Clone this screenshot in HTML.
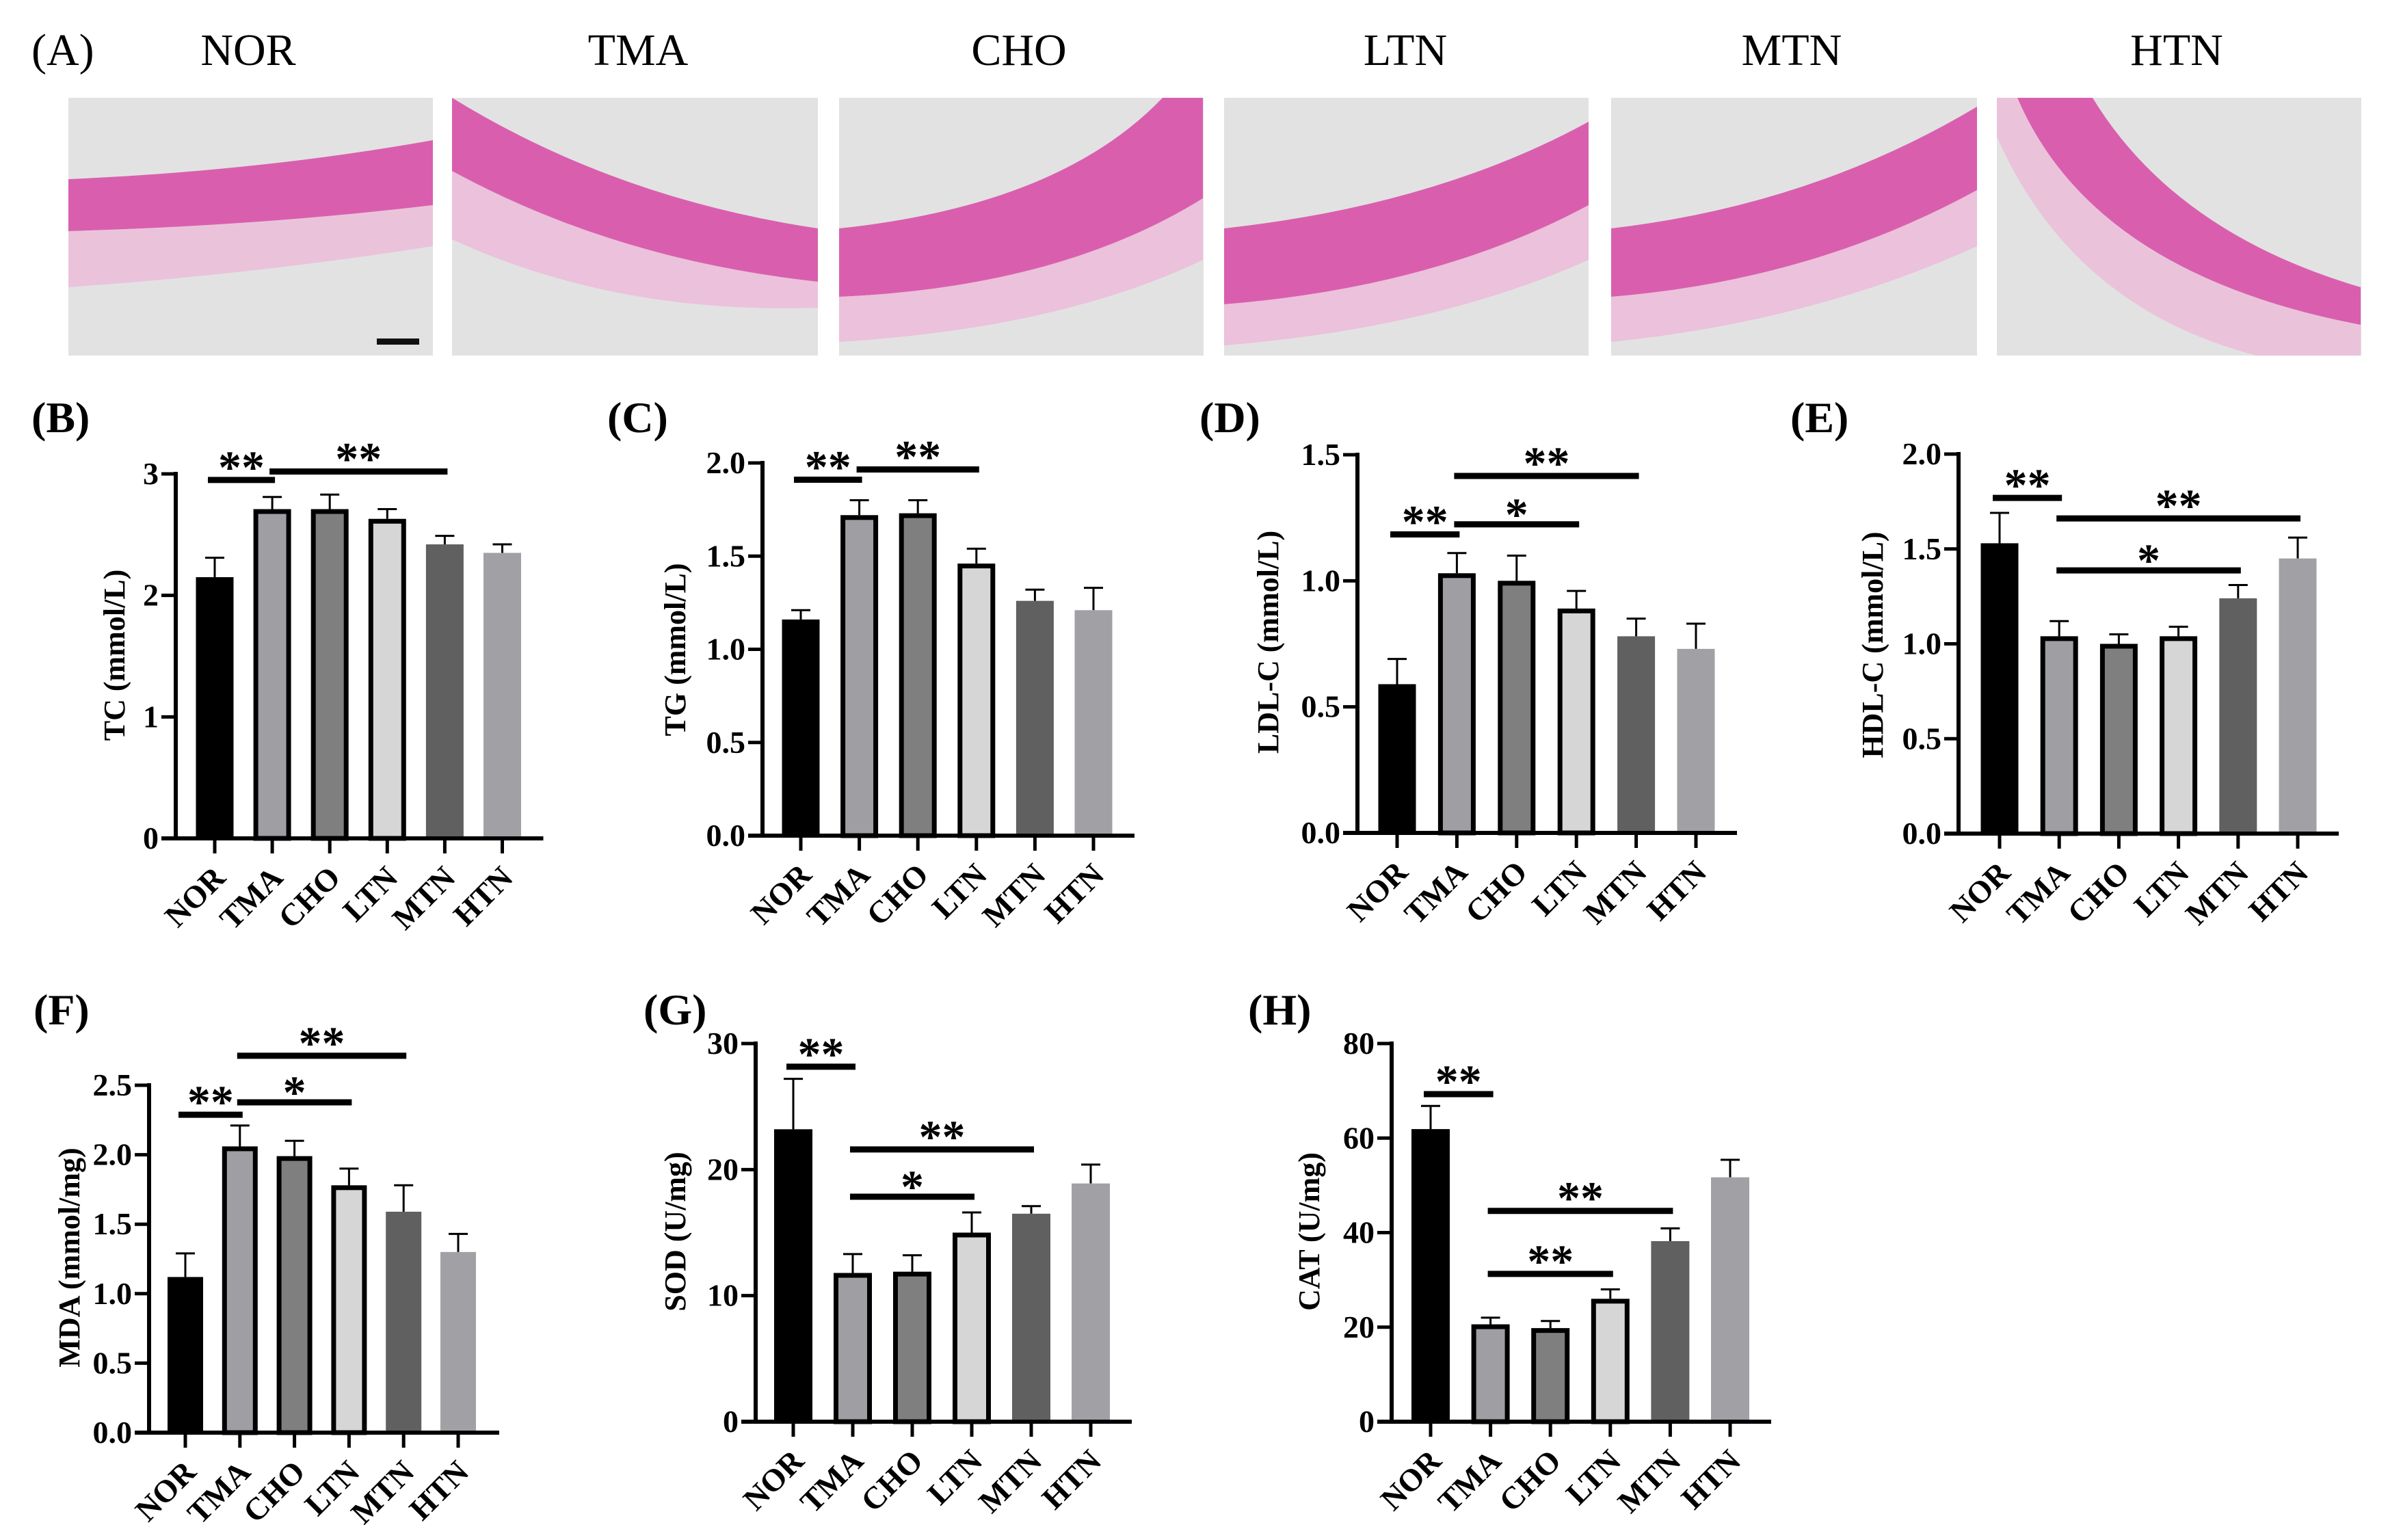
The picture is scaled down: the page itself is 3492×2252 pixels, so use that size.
<!DOCTYPE html>
<html><head><meta charset="utf-8"><style>
html,body{margin:0;padding:0;background:#fff;}
svg{display:block;font-family:"Liberation Serif","Times New Roman",serif;}
</style></head><body>
<svg id="fig" width="3492" height="2252" viewBox="0 0 3492 2252" xmlns="http://www.w3.org/2000/svg">
<g id="panelA">
<text x="46" y="95" font-size="66">(A)</text>
<text x="363" y="95" font-size="66" text-anchor="middle">NOR</text>
<text x="933" y="95" font-size="66" text-anchor="middle">TMA</text>
<text x="1490" y="95" font-size="66" text-anchor="middle">CHO</text>
<text x="2055" y="95" font-size="66" text-anchor="middle">LTN</text>
<text x="2620" y="95" font-size="66" text-anchor="middle">MTN</text>
<text x="3183" y="95" font-size="66" text-anchor="middle">HTN</text>
<g>
<rect x="100" y="143" width="533" height="377" fill="#e2e2e2"/>
<path d="M100 262 Q380 250 633 205 L633 300 Q380 330 100 338 Z" fill="#d95fae"/>
<path d="M100 338 Q380 330 633 300 L633 360 Q380 400 100 420 Z" fill="#eeb6d8" opacity="0.7"/>
<rect x="551" y="495" width="62" height="9" fill="#111"/>
</g>
<g>
<rect x="661" y="143" width="535" height="377" fill="#e2e2e2"/>
<path d="M661 143 Q900 290 1196 334 L1196 412 Q900 380 661 250 Z" fill="#d95fae"/>
<path d="M661 250 Q900 380 1196 412 L1196 450 Q900 460 661 350 Z" fill="#eeb6d8" opacity="0.75"/>
</g>
<g>
<rect x="1227" y="143" width="533" height="377" fill="#e2e2e2"/>
<path d="M1227 334 Q1550 300 1700 143 L1759 143 L1759 290 Q1550 420 1227 434 Z" fill="#d95fae"/>
<path d="M1227 434 Q1550 420 1759 290 L1759 380 Q1550 480 1227 500 Z" fill="#eeb6d8" opacity="0.75"/>
</g>
<g>
<rect x="1790" y="143" width="533" height="377" fill="#e2e2e2"/>
<path d="M1790 334 Q2100 300 2323 178 L2323 300 Q2100 420 1790 445 Z" fill="#d95fae"/>
<path d="M1790 445 Q2100 420 2323 300 L2323 380 Q2100 480 1790 505 Z" fill="#eeb6d8" opacity="0.75"/>
</g>
<g>
<rect x="2356" y="143" width="535" height="377" fill="#e2e2e2"/>
<path d="M2356 334 Q2650 300 2891 156 L2891 278 Q2650 410 2356 434 Z" fill="#d95fae"/>
<path d="M2356 434 Q2650 410 2891 278 L2891 360 Q2650 470 2356 500 Z" fill="#eeb6d8" opacity="0.75"/>
</g>
<g>
<rect x="2920" y="143" width="533" height="377" fill="#e2e2e2"/>
<path d="M2950 143 Q3060 400 3452 475 L3452 420 Q3180 340 3060 143 Z" fill="#d95fae"/>
<path d="M2920 200 Q3030 450 3300 520 L3452 520 L3452 475 Q3060 400 2950 143 L2920 143 Z" fill="#eeb6d8" opacity="0.7"/>
</g>
</g>
<g id="charts"></g>
</svg>
<script>
const categories = ["NOR","TMA","CHO","LTN","MTN","HTN"];
const tcValues = [2.15,2.71,2.71,2.63,2.42,2.35];
const tcErrors = [0.16,0.10,0.12,0.08,0.07,0.07];
const tgValues = [1.16,1.72,1.73,1.46,1.26,1.21];
const tgErrors = [0.05,0.08,0.07,0.08,0.06,0.12];
const ldlValues = [0.59,1.03,1.00,0.89,0.78,0.73];
const ldlErrors = [0.10,0.08,0.10,0.07,0.07,0.10];
const hdlValues = [1.53,1.04,1.00,1.04,1.24,1.45];
const hdlErrors = [0.16,0.08,0.05,0.05,0.07,0.11];
const mdaValues = [1.12,2.06,1.99,1.78,1.59,1.30];
const mdaErrors = [0.17,0.15,0.11,0.12,0.19,0.13];
const sodValues = [23.2,11.8,11.9,15.0,16.5,18.9];
const sodErrors = [4.0,1.5,1.3,1.6,0.6,1.5];
const catValues = [61.9,20.6,19.8,26.0,38.2,51.7];
const catErrors = [4.9,1.4,1.5,2.0,2.7,3.7];
const tcTicks = ["0","1","2","3"];
const tgTicks = ["0.0","0.5","1.0","1.5","2.0"];
const ldlTicks = ["0.0","0.5","1.0","1.5"];
const hdlTicks = ["0.0","0.5","1.0","1.5","2.0"];
const mdaTicks = ["0.0","0.5","1.0","1.5","2.0","2.5"];
const sodTicks = ["0","10","20","30"];
const catTicks = ["0","20","40","60","80"];
// significance brackets: [fromIndex, toIndex, level(data units), label]
const tcSig = [[0,1,2.95,"**"],[1,4,3.02,"**"]];
const tgSig = [[0,1,1.91,"**"],[1,3,1.965,"**"]];
const ldlSig = [[0,1,1.184,"**"],[1,3,1.224,"*"],[1,4,1.416,"**"]];
const hdlSig = [[0,1,1.769,"**"],[1,4,1.387,"*"],[1,5,1.661,"**"]];
const mdaSig = [[0,1,2.288,"**"],[1,3,2.377,"*"],[1,4,2.712,"**"]];
const sodSig = [[0,1,28.16,"**"],[1,3,17.85,"*"],[1,4,21.6,"**"]];
const catSig = [[0,1,69.3,"**"],[1,3,31.26,"**"],[1,4,44.6,"**"]];

const fills = ["#000000","#9e9ea3","#7f7f7f","#d6d6d6","#606060","#a1a1a5"];
const bordered = [false,true,true,true,false,false];
const NS = "http://www.w3.org/2000/svg";
const root = document.getElementById("charts");
function mk(tag, attrs, parent){const e=document.createElementNS(NS,tag);for(const k in attrs)e.setAttribute(k,attrs[k]);parent.appendChild(e);return e;}

function drawPanel(cfg, values, errors, ticks, sigs){
  const g = mk("g",{},root);
  
  
  const yMax = parseFloat(ticks[ticks.length-1]);
  const ys = v => cfg.zeroY - (v / yMax) * (cfg.zeroY - cfg.topY);
  const xs = i => cfg.x0 + cfg.step * i;
  const lab = mk("text",{x:cfg.lx,y:cfg.ly,"font-size":64,"font-weight":"bold"},g);
  lab.textContent = cfg.label;
  
  
  const t = mk("text",{x:0,y:0,"font-size":44,"font-weight":"bold","text-anchor":"middle",transform:`translate(${cfg.tx+16},${cfg.ty}) rotate(-90)`},g);
  t.textContent = cfg.title;
  
  
  values.forEach((v,i)=>{
    const cx = xs(i), w = cfg.bw, top = ys(v), bw = 7;
    const eb = mk("g",{},g);
    
    
    const et = ys(v + errors[i]);
    mk("line",{x1:cx,x2:cx,y1:top,y2:et,stroke:"#000","stroke-width":3},eb);
    mk("line",{x1:cx-14,x2:cx+14,y1:et,y2:et,stroke:"#000","stroke-width":3},eb);
    let r;
    if (bordered[i]) {
      r = mk("rect",{x:cx-w/2+bw/2,y:top+bw/2,width:w-bw,height:cfg.zeroY-top-bw/2,fill:fills[i],stroke:"#000","stroke-width":bw},g);
    } else {
      r = mk("rect",{x:cx-w/2,y:top,width:w,height:cfg.zeroY-top,fill:fills[i]},g);
    }
    
    
  });
  const ax = mk("g",{},g);
  
  
  mk("line",{x1:cfg.axisX,x2:cfg.axisX,y1:cfg.topY-3,y2:cfg.zeroY+3,stroke:"#000","stroke-width":6},ax);
  mk("line",{x1:cfg.axisX-21,x2:xs(5)+60,y1:cfg.zeroY,y2:cfg.zeroY,stroke:"#000","stroke-width":6},ax);
  ticks.forEach(tk=>{
    const y = ys(parseFloat(tk));
    mk("line",{x1:cfg.axisX-21,x2:cfg.axisX,y1:y,y2:y,stroke:"#000","stroke-width":5},ax);
    const tl = mk("text",{x:cfg.axisX-25,y:y+15,"font-size":46,"font-weight":"bold","text-anchor":"end"},ax);
    tl.textContent = tk;
    
    
  });
  categories.forEach((c,i)=>{
    const cx = xs(i);
    mk("line",{x1:cx,x2:cx,y1:cfg.zeroY,y2:cfg.zeroY+22,stroke:"#000","stroke-width":5},ax);
    const cl = mk("text",{x:0,y:0,"font-size":46,"font-weight":"bold","text-anchor":"end",transform:`translate(${cx+18},${cfg.zeroY+60}) rotate(-45)`},ax);
    cl.textContent = c;
    
    
  });
  sigs.forEach(s=>{
    const sg = mk("g",{},g);
    
    
    const y = ys(s[2]);
    const x1 = xs(s[0]) - (s[0]===0 ? 10 : 4), x2 = xs(s[1]) + 4;
    mk("line",{x1:x1,x2:x2,y1:y,y2:y,stroke:"#000","stroke-width":9},sg);
    const st = mk("text",{x:(x1+x2)/2,y:y+(s[3]==="*"?8:4),"font-size":68,"font-weight":"bold","text-anchor":"middle"},sg);
    st.textContent = s[3];
  });
}

drawPanel({name:"chart-tc",label:"(B)",lx:46,ly:632,title:"TC (mmol/L)",tx:166,ty:958,axisX:257,zeroY:1226,topY:693,x0:314,step:84.1,bw:55},tcValues,tcErrors,tcTicks,tcSig);
drawPanel({name:"chart-tg",label:"(C)",lx:888,ly:632,title:"TG (mmol/L)",tx:986,ty:950,axisX:1115,zeroY:1222,topY:677,x0:1171,step:85.6,bw:55},tgValues,tgErrors,tgTicks,tgSig);
drawPanel({name:"chart-ldl",label:"(D)",lx:1754,ly:632,title:"LDL-C (mmol/L)",tx:1853,ty:939,axisX:1985,zeroY:1218,topY:665,x0:2043,step:87.4,bw:55},ldlValues,ldlErrors,ldlTicks,ldlSig);
drawPanel({name:"chart-hdl",label:"(E)",lx:2618,ly:632,title:"HDL-C (mmol/L)",tx:2737,ty:943,axisX:2864,zeroY:1219,topY:664,x0:2924,step:87.2,bw:55},hdlValues,hdlErrors,hdlTicks,hdlSig);
drawPanel({name:"chart-mda",label:"(F)",lx:49,ly:1498,title:"MDA (mmol/mg)",tx:100,ty:1839,axisX:218,zeroY:2095,topY:1587,x0:271,step:79.8,bw:52},mdaValues,mdaErrors,mdaTicks,mdaSig);
drawPanel({name:"chart-sod",label:"(G)",lx:941,ly:1498,title:"SOD (U/mg)",tx:986,ty:1801,axisX:1105,zeroY:2079,topY:1526,x0:1160,step:87,bw:56},sodValues,sodErrors,sodTicks,sodSig);
drawPanel({name:"chart-cat",label:"(H)",lx:1825,ly:1498,title:"CAT (U/mg)",tx:1913,ty:1801,axisX:2035,zeroY:2079,topY:1526,x0:2092,step:87.6,bw:56},catValues,catErrors,catTicks,catSig);
</script>
</body></html>
